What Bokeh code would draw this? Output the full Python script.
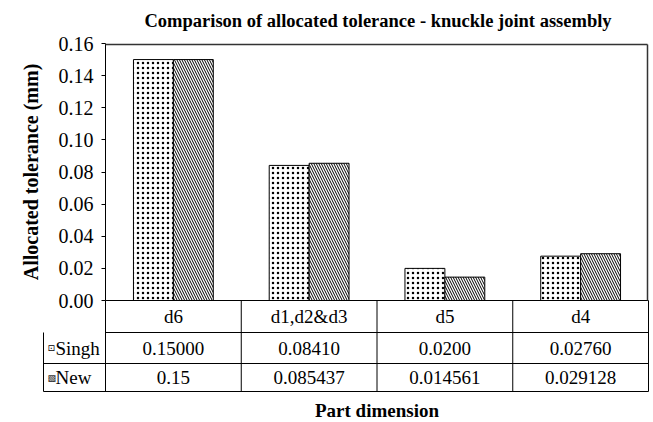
import numpy as np
from bokeh.plotting import figure
from bokeh.models import Range1d, FixedTicker, ColumnDataSource, NumeralTickFormatter
from bokeh.transform import dodge
from bokeh.core.properties import value
from bokeh.embed import file_html
from bokeh.resources import INLINE

# ---------------- data ----------------
categories = ["d6", "d1,d2&d3", "d5", "d4"]
singh = [0.15000, 0.08410, 0.0200, 0.02760]
new = [0.15, 0.085437, 0.014561, 0.029128]
singh_labels = ["0.15000", "0.08410", "0.0200", "0.02760"]
new_labels = ["0.15", "0.085437", "0.014561", "0.029128"]
y_ticks = [0.00, 0.02, 0.04, 0.06, 0.08, 0.10, 0.12, 0.14, 0.16]
series_names = ["Singh", "New"]
series_keys = ["\u22a1", "\u25a7"]
title_text = "Comparison of allocated tolerance - knuckle joint assembly"
y_label = "Allocated tolerance (mm)"
x_label = "Part dimension"

# ---------------- layout (pixels) ----------------
W, H = 653, 422
LEFT, RIGHT, TOP, ZERO_PX = 105, 648, 43, 300     # plot box
TABLE_LEFT = 43                                    # left edge of the series-name column
ROW_LINES = [332, 363, 391]                        # lines under category / Singh / New rows
ROW_CENTERS = [316, 347.5, 377]
XLABEL_Y = 410
FRAME_L, FRAME_R, FRAME_T, FRAME_B = 0, 651, 30, 422
Y_MAX = 0.16
n = len(categories)
cat_w = (RIGHT - LEFT) / n
unit = (ZERO_PX - TOP) / Y_MAX
FONT = "Liberation Serif"
BW = 0.294
LINE = "black"


def ypx(py):
    return (ZERO_PX - py) / unit


def xpx(px):
    return (px - LEFT) / cat_w


p = figure(width=W, height=H,
           x_range=Range1d(xpx(FRAME_L), xpx(FRAME_R)),
           y_range=Range1d(ypx(FRAME_B), ypx(FRAME_T)),
           output_backend="svg", toolbar_location=None,
           min_border_left=FRAME_L, min_border_right=W - FRAME_R,
           min_border_top=FRAME_T, min_border_bottom=H - FRAME_B)
p.background_fill_color = "white"
p.border_fill_color = "white"
p.outline_line_color = None
p.xgrid.visible = False
p.ygrid.visible = False
p.xaxis.visible = False

p.title.text = title_text
p.title.align = "left"
p.title.offset = 144
p.title.standoff = 0
p.title.text_font = FONT
p.title.text_font_size = "18.5px"
p.title.text_font_style = "bold"
p.title.text_color = "black"

# y axis drawn at the plot box's left edge
yax = p.yaxis[0]
yax.fixed_location = 0
yax.bounds = (0, Y_MAX)
yax.ticker = FixedTicker(ticks=y_ticks)
yax.formatter = NumeralTickFormatter(format="0.00")
yax.major_label_text_font = FONT
yax.major_label_text_font_size = "20px"
yax.major_label_text_color = "black"
yax.major_tick_out = 4
yax.major_tick_in = 0
yax.minor_tick_out = 0
yax.minor_tick_in = 0
yax.axis_line_color = LINE
yax.major_tick_line_color = LINE
yax.major_label_standoff = 8
yax.axis_label = y_label
yax.axis_label_text_font = FONT
yax.axis_label_text_font_size = "20px"
yax.axis_label_text_font_style = "bold"
yax.axis_label_text_color = "black"
yax.axis_label_standoff = 14

centers = np.arange(n) + 0.5
src = ColumnDataSource(dict(x=centers, cat=categories, singh=singh, new=new,
                            sl=singh_labels, nl=new_labels))

p.vbar(x=dodge("x", -BW / 2), top="singh", width=BW, bottom=0, source=src,
       fill_color="white", line_color=LINE, line_width=1,
       hatch_pattern="dot", hatch_color="black", hatch_scale=5, hatch_weight=0.6)
p.vbar(x=dodge("x", BW / 2), top="new", width=BW, bottom=0, source=src,
       fill_color="white", line_color=LINE, line_width=1,
       hatch_pattern="left_diagonal_line", hatch_color="black", hatch_scale=5, hatch_weight=1)

# plot box border (top and right), just inside the box edge
top_y = ypx(TOP + 1)
right_x = xpx(RIGHT - 1)
p.segment(x0=[0.0, right_x], x1=[right_x, right_x], y0=[top_y, top_y], y1=[top_y, 0.0],
          line_color="#333333", line_width=1.5, level="overlay")

# data table grid
y_tab_bottom = ypx(ROW_LINES[-1])
xl = xpx(TABLE_LEFT)
row_y = [ypx(r) for r in ROW_LINES]
p.segment(x0=[0.0, 0.0, xl, xl], x1=[float(n)] * 4, y0=[0.0] + row_y, y1=[0.0] + row_y,
          line_color=LINE, line_width=1)
vx = [float(v) for v in range(0, n + 1)]
p.segment(x0=vx, x1=vx, y0=[0.0] * len(vx), y1=[y_tab_bottom] * len(vx),
          line_color=LINE, line_width=1)
p.segment(x0=[xl], x1=[xl], y0=[row_y[0]], y1=[y_tab_bottom], line_color=LINE, line_width=1)

rc = [ypx(c) for c in ROW_CENTERS]
for col, yy in zip(["cat", "sl", "nl"], rc):
    p.text(x="x", y=yy, text=col, source=src, text_font=value(FONT), text_font_size="19px",
           text_align="center", text_baseline="middle", text_color="black")

p.text(x=[xpx(47)] * 2, y=rc[1:], text=series_keys, text_font=value("DejaVu Sans"),
       text_font_size="9px", text_baseline="middle", text_color="black")
p.text(x=[xpx(55)] * 2, y=rc[1:], text=series_names, text_font=value(FONT),
       text_font_size="19px", text_baseline="middle", text_color="black")

# x axis title, centred under the plot box
p.text(x=[n / 2], y=[ypx(XLABEL_Y)], text=[x_label], text_font=value(FONT),
       text_font_size="19px", text_font_style="bold", text_align="center",
       text_baseline="middle", text_color="black")

open("out.html", "w").write(file_html(p, INLINE))
